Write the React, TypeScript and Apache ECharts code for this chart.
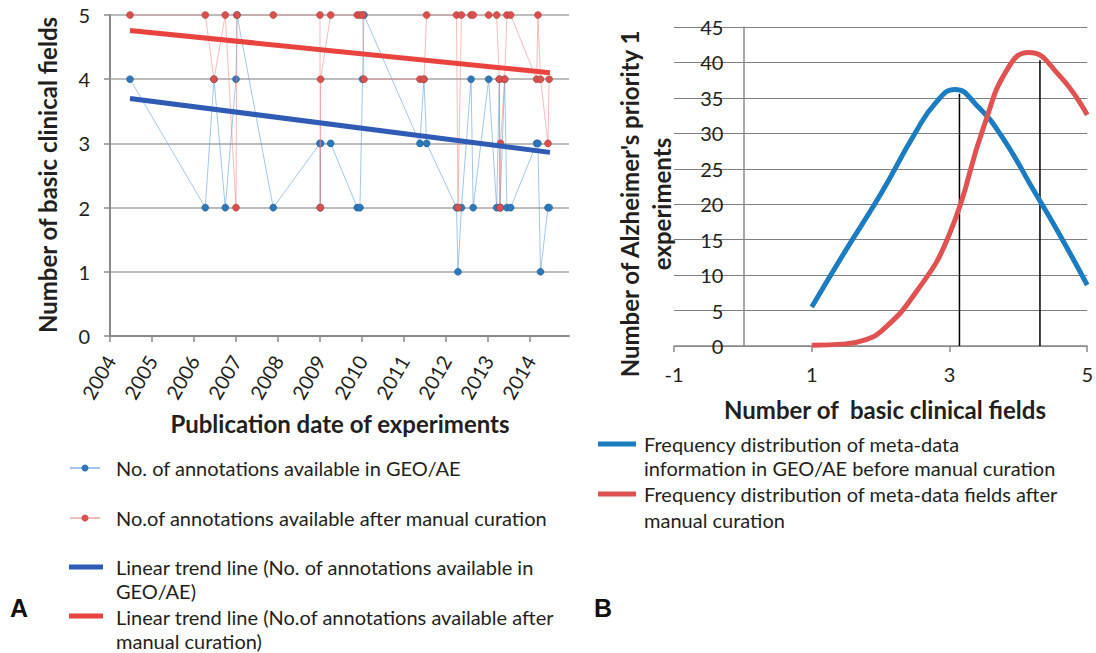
import React, { useEffect, useRef } from "react";
import * as echarts from "echarts";

// ---------- Panel A data ----------
const pubYears = [
  2004.476, 2006.269, 2006.476, 2006.745, 2007.0, 2007.024, 2007.888,
  2009.0, 2009.007, 2009.014, 2009.255, 2009.888, 2009.952, 2010.014, 2010.048,
  2011.381, 2011.476, 2011.54, 2012.252, 2012.286, 2012.369, 2012.598, 2012.648,
  2013.017, 2013.207, 2013.271, 2013.286, 2013.3, 2013.398, 2013.452, 2013.54,
  2014.16, 2014.19, 2014.252, 2014.429, 2014.457,
];
const geoCounts = [
  4, 2, 4, 2, 4, 5, 2,
  3, 2, 3, 3, 2, 2, 4, 5,
  3, 4, 3, 2, 1, 2, 4, 2,
  4, 2, 4, 2, 2, 4, 2, 2,
  3, 3, 1, 2, 2,
];
const curatedCounts = [
  5, 5, 4, 5, 2, 5, 5,
  5, 2, 4, 5, 5, 5, 5, 4,
  4, 4, 5, 5, 2, 5, 5, 5,
  5, 5, 4, 2, 3, 4, 5, 5,
  4, 5, 4, 3, 4,
];
const trendYears = [2004.476, 2014.476];
const geoTrend = [3.7, 2.86];
const curatedTrend = [4.76, 4.1];
const yearTicks = [2004, 2005, 2006, 2007, 2008, 2009, 2010, 2011, 2012, 2013, 2014];

// ---------- Panel B data ----------
const beforeFields = [1, 1.5, 2, 2.5, 2.8, 3.08, 3.4, 3.75, 4.25, 4.6, 5];
const beforeFreq = [5.5, 13.6, 21.4, 30, 34.3, 36.2, 33.9, 29.7, 21.5, 15.7, 8.6];
const afterFields = [1, 1.5, 1.75, 2, 2.5, 3, 3.5, 3.85, 4.15, 4.6, 5];
const afterFreq = [0.1, 0.3, 0.8, 2.0, 7.4, 15.8, 31, 39.2, 41.4, 38.1, 32.6];
const meanBefore = [3.145, 35.6];
const meanAfter = [4.314, 40.3];

const FONT = "Lato, 'Open Sans', sans-serif";
const TXT = "#231F20";

function pairs(xs: number[], ys: number[]) {
  return xs.map((x, i) => [x, ys[i]]);
}

export default function App() {
  const ref = useRef<HTMLDivElement>(null);
  useEffect(() => {
    if (!ref.current) return;
    const chart = echarts.init(ref.current, null, { renderer: "svg" });

    const legendText = (x: number, y: number, text: string) => ({
      type: "text",
      x,
      y,
      style: { text, fill: TXT, font: `20px ${FONT}`, verticalAlign: "middle", align: "left" },
    });
    const title = (x: number, y: number, text: string, rot = 0) => ({
      type: "text",
      x,
      y,
      rotation: rot,
      style: { text, fill: TXT, font: `bold 24px ${FONT}`, align: "center", verticalAlign: "middle" },
    });

    chart.setOption({
      animation: false,
      backgroundColor: "#ffffff",
      grid: [
        { left: 110, top: 15, width: 459, height: 321, containLabel: false },
        { left: 674, top: 27, width: 416, height: 319, containLabel: false },
      ],
      xAxis: [
        {
          type: "value",
          gridIndex: 0,
          min: 2004,
          max: 2014.93,
          axisLine: { show: true, lineStyle: { color: "#8a8a8a", width: 2 } },
          axisTick: { show: true, customValues: yearTicks, length: 6, lineStyle: { color: "#8a8a8a", width: 1.5 } },
          axisLabel: {
            customValues: yearTicks,
            rotate: 60,
            margin: 21,
            color: TXT,
            fontSize: 20,
            fontFamily: FONT,
            formatter: (v: number) => String(Math.round(v)),
          },
          splitLine: { show: false },
        },
        {
          type: "value",
          gridIndex: 1,
          min: -1,
          max: 5,
          interval: 2,
          axisLine: { show: true, onZero: true, lineStyle: { color: "#8a8a8a", width: 1.5 } },
          axisTick: { show: true, length: 6, lineStyle: { color: "#8a8a8a", width: 1.5 } },
          axisLabel: { color: TXT, fontSize: 20, fontFamily: FONT, margin: 18 },
          splitLine: { show: false },
        },
      ],
      yAxis: [
        {
          type: "value",
          gridIndex: 0,
          min: 0,
          max: 5,
          interval: 1,
          axisLine: { show: true, lineStyle: { color: "#8a8a8a", width: 2 } },
          axisTick: { show: true, length: 6, lineStyle: { color: "#8a8a8a", width: 1.5 } },
          axisLabel: { color: TXT, fontSize: 20, fontFamily: FONT, margin: 20 },
          splitLine: { show: true, lineStyle: { color: "#a6a6a6", width: 1.5 } },
        },
        {
          type: "value",
          gridIndex: 1,
          min: 0,
          max: 45,
          interval: 5,
          offset: -69.33,
          axisLine: { show: true, onZero: false, lineStyle: { color: "#8a8a8a", width: 1.5 } },
          axisTick: { show: false },
          axisLabel: { color: TXT, fontSize: 20, fontFamily: FONT, margin: 20 },
          splitLine: { show: true, lineStyle: { color: "#7f7f7f", width: 1.2 } },
        },
      ],
      series: [
        {
          name: "No. of annotations available in GEO/AE",
          type: "line",
          xAxisIndex: 0,
          yAxisIndex: 0,
          data: pairs(pubYears, geoCounts),
          symbol: "circle",
          symbolSize: 7,
          lineStyle: { color: "rgba(100,160,215,0.6)", width: 1 },
          itemStyle: { color: "#2F78B8", borderColor: "#1f5f96", borderWidth: 0.5 },
          z: 2,
        },
        {
          name: "No.of annotations available after manual curation",
          type: "line",
          xAxisIndex: 0,
          yAxisIndex: 0,
          data: pairs(pubYears, curatedCounts),
          symbol: "circle",
          symbolSize: 7,
          lineStyle: { color: "rgba(240,130,130,0.55)", width: 1 },
          itemStyle: { color: "#D9504E", borderColor: "#a83a38", borderWidth: 0.5 },
          z: 3,
        },
        {
          name: "Linear trend line (No. of annotations available in GEO/AE)",
          type: "line",
          xAxisIndex: 0,
          yAxisIndex: 0,
          data: pairs(trendYears, geoTrend),
          symbol: "none",
          lineStyle: { color: "#2F5BB5", width: 5 },
          z: 4,
        },
        {
          name: "Linear trend line (No.of annotations available after manual curation)",
          type: "line",
          xAxisIndex: 0,
          yAxisIndex: 0,
          data: pairs(trendYears, curatedTrend),
          symbol: "none",
          lineStyle: { color: "#E8433F", width: 5 },
          z: 4,
        },
        {
          name: "Frequency distribution of meta-data information in GEO/AE before manual curation",
          type: "line",
          xAxisIndex: 1,
          yAxisIndex: 1,
          data: pairs(beforeFields, beforeFreq),
          smooth: 0.5,
          symbol: "none",
          lineStyle: { color: "#1C7CC2", width: 5 },
          z: 3,
        },
        {
          name: "Frequency distribution of meta-data fields after manual curation",
          type: "line",
          xAxisIndex: 1,
          yAxisIndex: 1,
          data: pairs(afterFields, afterFreq),
          smooth: 0.5,
          symbol: "none",
          lineStyle: { color: "#E05252", width: 5 },
          z: 3,
        },
        {
          name: "mean before",
          type: "line",
          xAxisIndex: 1,
          yAxisIndex: 1,
          data: [[meanBefore[0], 0], [meanBefore[0], meanBefore[1]]],
          symbol: "none",
          lineStyle: { color: "#000000", width: 1.5 },
          z: 2,
        },
        {
          name: "mean after",
          type: "line",
          xAxisIndex: 1,
          yAxisIndex: 1,
          data: [[meanAfter[0], 0], [meanAfter[0], meanAfter[1]]],
          symbol: "none",
          lineStyle: { color: "#000000", width: 1.5 },
          z: 2,
        },
      ],
      graphic: [
        // axis titles panel A
        title(47, 175, "Number of basic clinical fields", Math.PI / 2),
        title(340, 423, "Publication date of experiments"),
        // axis titles panel B
        title(629, 204, "Number of Alzheimer's priority 1", Math.PI / 2),
        title(661, 204, "experiments", Math.PI / 2),
        title(885, 409, "Number of  basic clinical fields"),
        // legend panel A
        { type: "line", shape: { x1: 70, y1: 468, x2: 100, y2: 468 }, style: { stroke: "#4a8fcf", lineWidth: 1 } },
        { type: "circle", shape: { cx: 85, cy: 468, r: 3.5 }, style: { fill: "#2F78B8" } },
        legendText(116, 468, "No. of annotations available in GEO/AE"),
        { type: "line", shape: { x1: 70, y1: 518, x2: 100, y2: 518 }, style: { stroke: "#e07b7b", lineWidth: 1 } },
        { type: "circle", shape: { cx: 85, cy: 518, r: 3.5 }, style: { fill: "#D9504E" } },
        legendText(116, 518, "No.of annotations available after manual curation"),
        { type: "line", shape: { x1: 69, y1: 567, x2: 103, y2: 567 }, style: { stroke: "#2F5BB5", lineWidth: 5 } },
        legendText(116, 567, "Linear trend line (No. of annotations available in"),
        legendText(116, 591, "GEO/AE)"),
        { type: "line", shape: { x1: 69, y1: 616, x2: 103, y2: 616 }, style: { stroke: "#E8433F", lineWidth: 5 } },
        legendText(116, 617, "Linear trend line (No.of annotations available after"),
        legendText(116, 641, "manual curation)"),
        // legend panel B
        { type: "line", shape: { x1: 598, y1: 444, x2: 636, y2: 444 }, style: { stroke: "#1C7CC2", lineWidth: 5 } },
        legendText(644, 444, "Frequency distribution of meta-data"),
        legendText(644, 468, "information in GEO/AE before manual curation"),
        { type: "line", shape: { x1: 598, y1: 494, x2: 636, y2: 494 }, style: { stroke: "#E05252", lineWidth: 5 } },
        legendText(644, 494, "Frequency distribution of meta-data fields after"),
        legendText(644, 520, "manual curation"),
        // panel letters
        {
          type: "text",
          x: 19,
          y: 608,
          style: { text: "A", fill: "#111", font: "bold 25px 'Liberation Sans', Arial, sans-serif", verticalAlign: "middle", align: "center" },
        },
        {
          type: "text",
          x: 603,
          y: 608,
          style: { text: "B", fill: "#111", font: "bold 25px 'Liberation Sans', Arial, sans-serif", verticalAlign: "middle", align: "center" },
        },
      ],
    });
    return () => chart.dispose();
  }, []);
  return (
    <div
      ref={ref}
      style={{ position: "fixed", left: 0, top: 0, width: 1096, height: 653, background: "#fff" }}
    />
  );
}
